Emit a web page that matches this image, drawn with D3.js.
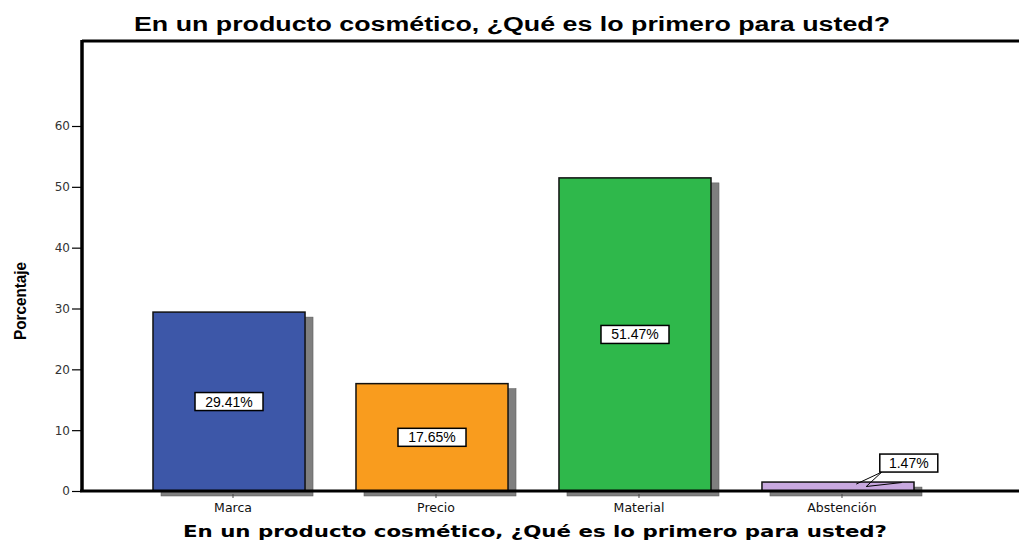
<!DOCTYPE html>
<html>
<head>
<meta charset="utf-8">
<script src="https://cdn.jsdelivr.net/npm/d3@7"></script>
<style>
  body { margin: 0; background: #fff; }
  text { font-family: "Liberation Sans", Arial, sans-serif; }
</style>
</head>
<body>
<div id="chart"></div>
<script>
// data
var categories = ["Marca", "Precio", "Material", "Abstención"];
var values = [29.41, 17.65, 51.47, 1.47];
var labels = ["29.41%", "17.65%", "51.47%", "1.47%"];
var colors = ["#3d57a8", "#f99c1e", "#2fb84b", "#c8a8df"];
var yTicks = [0, 10, 20, 30, 40, 50, 60];
var titleText = "En un producto cosmético, ¿Qué es lo primero para usted?";

var width = 1019, height = 541;

var svg = d3.select("#chart").append("svg")
  .attr("width", width)
  .attr("height", height);

// scales
var x = d3.scaleBand()
  .domain(categories)
  .range([127.5, 939.5])
  .paddingInner(0.251)
  .paddingOuter(0.1256);

var y = d3.scaleLinear()
  .domain([0, 60])
  .range([491, 126]);

// title
svg.append("text")
  .attr("x", 512).attr("y", 31)
  .attr("text-anchor", "middle")
  .attr("font-size", 20)
  .attr("font-weight", "bold")
  .attr("textLength", 756)
  .attr("lengthAdjust", "spacingAndGlyphs")
  .text(titleText);

// frame top line
svg.append("line")
  .attr("x1", 82).attr("x2", width)
  .attr("y1", 41).attr("y2", 41)
  .attr("stroke", "#000").attr("stroke-width", 3);

// bar shadows
var g = svg.append("g");
g.selectAll("rect.shadow")
  .data(values)
  .enter().append("rect")
  .attr("class", "shadow")
  .attr("x", (d, i) => x(categories[i]) + 8)
  .attr("y", d => y(d) + 5)
  .attr("width", x.bandwidth())
  .attr("height", d => y(0) - y(d))
  .attr("fill", "#7f7f7f")
  .attr("stroke", "#555")
  .attr("stroke-width", 0.5);

// bars
g.selectAll("rect.bar")
  .data(values)
  .enter().append("rect")
  .attr("class", "bar")
  .attr("x", (d, i) => x(categories[i]))
  .attr("y", d => y(d))
  .attr("width", x.bandwidth())
  .attr("height", d => y(0) - y(d))
  .attr("fill", (d, i) => colors[i])
  .attr("stroke", "#111")
  .attr("stroke-width", 1.5);

// axes
var yAxis = d3.axisLeft(y).tickValues(yTicks).tickSize(10).tickPadding(2);
var ya = svg.append("g")
  .attr("transform", "translate(82,0)")
  .call(yAxis);
ya.select(".domain").remove();
ya.selectAll(".tick line").attr("stroke", "#000").attr("stroke-width", 1.2);
ya.selectAll(".tick text")
  .attr("fill", "#333")
  .style("font-family", "DejaVu Sans, sans-serif")
  .style("font-size", "12px");

svg.append("line")
  .attr("x1", 82).attr("x2", 82)
  .attr("y1", 40).attr("y2", 492)
  .attr("stroke", "#000").attr("stroke-width", 3.5);

svg.append("line")
  .attr("x1", 80).attr("x2", width)
  .attr("y1", 491).attr("y2", 491)
  .attr("stroke", "#000").attr("stroke-width", 3);

var xAxis = d3.axisBottom(x).tickSize(4).tickPadding(5);
var xa = svg.append("g")
  .attr("transform", "translate(4,494)")
  .call(xAxis);
xa.select(".domain").remove();
xa.selectAll(".tick line").attr("stroke", "#444");
xa.selectAll(".tick text")
  .attr("fill", "#111")
  .style("font-family", "DejaVu Sans, sans-serif")
  .style("font-size", "12.5px");

// value labels
var lab = svg.append("g");
values.forEach(function (v, i) {
  var cx = x(categories[i]) + x.bandwidth() / 2;
  var cy = y(v / 2);
  var bw = 68, bh = 18;
  if (v < 5) {
    // small bar: callout up and to the right
    var bx = x(categories[i]) + x.bandwidth() * 0.775, by = y(v) - 28;
    var px = x(categories[i]) + x.bandwidth() * 0.62;
    lab.append("polyline")
      .attr("points", [[px, y(v) + 2], [bx + 2, by + bh], [px + 10, y(v / 2)], [bx + 22, y(v / 2) - 4]].join(" "))
      .attr("fill", "none")
      .attr("stroke", "#000").attr("stroke-width", 1);
    lab.append("rect")
      .attr("x", bx).attr("y", by)
      .attr("width", 58).attr("height", bh)
      .attr("fill", "#fff").attr("stroke", "#000").attr("stroke-width", 1.5);
    lab.append("text")
      .attr("x", bx + 29).attr("y", by + 14)
      .attr("text-anchor", "middle")
      .attr("font-size", 14)
      .text(labels[i]);
  } else {
    lab.append("rect")
      .attr("x", cx - bw / 2).attr("y", cy - bh / 2)
      .attr("width", bw).attr("height", bh)
      .attr("fill", "#fff").attr("stroke", "#000").attr("stroke-width", 1.5);
    lab.append("text")
      .attr("x", cx).attr("y", cy + 5)
      .attr("text-anchor", "middle")
      .attr("font-size", 14)
      .text(labels[i]);
  }
});

// axis titles
svg.append("text")
  .attr("transform", "translate(26,301) rotate(-90)")
  .attr("text-anchor", "middle")
  .attr("font-size", 17)
  .attr("font-weight", "bold")
  .attr("textLength", 78)
  .attr("lengthAdjust", "spacingAndGlyphs")
  .text("Porcentaje");

svg.append("text")
  .attr("x", 535).attr("y", 537)
  .attr("text-anchor", "middle")
  .attr("font-weight", "bold")
  .style("font-family", "DejaVu Sans, sans-serif")
  .style("font-size", "15.5px")
  .attr("textLength", 704)
  .attr("lengthAdjust", "spacingAndGlyphs")
  .text(titleText);
</script>
</body>
</html>
